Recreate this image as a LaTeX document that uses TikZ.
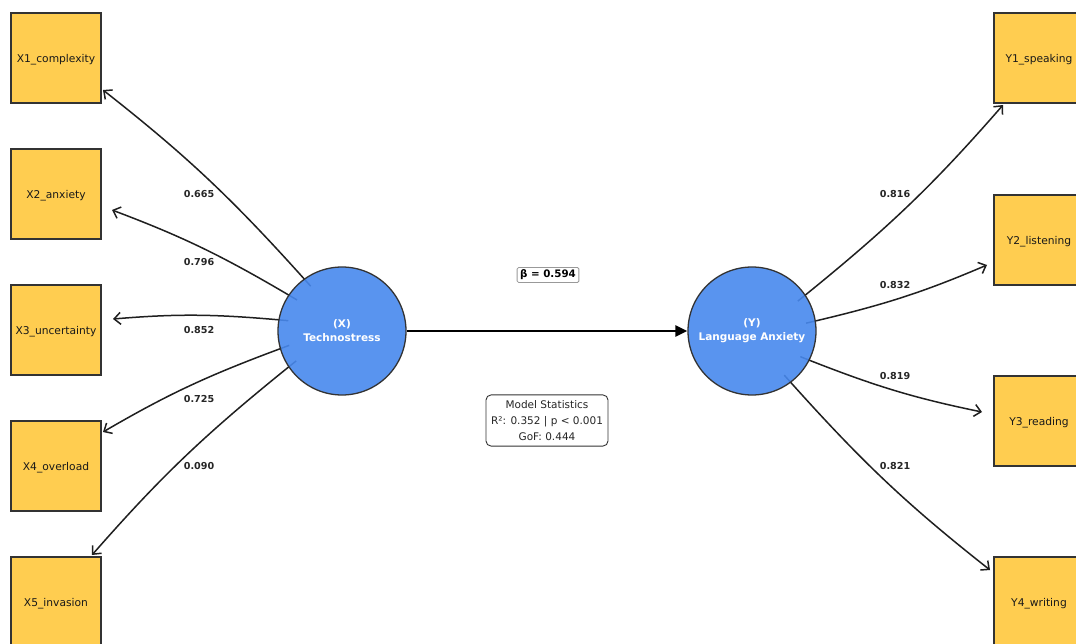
\documentclass[tikz,border=0pt]{standalone}
\usepackage{fontspec}
\setmainfont{DejaVu Sans}
\usetikzlibrary{arrows.meta}
\definecolor{boxfill}{HTML}{FFCD50}
\definecolor{circfill}{HTML}{4889EE}
\definecolor{edgec}{HTML}{333333}
\pgfdeclarelayer{bg}
\pgfsetlayers{bg,main}
\begin{document}
\begin{tikzpicture}[x=1pt,y=-1pt,
  ind/.style={rectangle,draw=edgec,line width=1.4pt,fill=boxfill,minimum width=90pt,minimum height=90pt,inner sep=0pt,text depth=0pt,font=\fontsize{10.7}{12}\selectfont,text=black!90},
  lat/.style={circle,draw=edgec,line width=1.3pt,fill=circfill,fill opacity=0.9,text opacity=1,minimum size=128pt,inner sep=0pt,text=white,font=\bfseries\fontsize{10.5}{14}\selectfont,align=center},
  load/.style={-{Straight Barb[length=6.5pt,width=12pt,line width=1.5pt]},line width=1.5pt,draw=black!88,shorten <=-10pt},
  lbl/.style={font=\bfseries\fontsize{9.6}{11}\selectfont,text=black!85},
  path/.style={line width=2.7pt,draw=black,-{Triangle[length=12pt,width=11pt]}},
]
\useasboundingbox (0,0) rectangle (1076,644);
\clip (0,0) rectangle (1076,644);

% indicator boxes
\node[ind] (x1) at (56,58)  {X1\_complexity};
\node[ind] (x2) at (56,194) {X2\_anxiety};
\node[ind] (x3) at (56,330) {X3\_uncertainty};
\node[ind] (x4) at (56,466) {X4\_overload};
\node[ind] (x5) at (56,602) {X5\_invasion};
\node[ind] (y1) at (1039,58)  {Y1\_speaking};
\node[ind] (y2) at (1039,240) {Y2\_listening};
\node[ind] (y3) at (1039,421) {Y3\_reading};
\node[ind] (y4) at (1039,602) {Y4\_writing};

% latent variables
\node[lat] (tx) at (342,331) {(X)\\Technostress};
\node[lat] (ty) at (752,331) {(Y)\\Language Anxiety};

% connectors
\begin{pgfonlayer}{bg}
\fill[white] (0,0) rectangle (1076,644);
\draw[load] (tx.126) to[bend right=5] ([shift={(47,32)}]x1.center);
\draw[load] (tx.146) to[bend right=5] ([shift={(56,16)}]x2.center);
\draw[load] (tx.170) to[bend right=5] ([shift={(57,-11)}]x3.center);
\draw[load] (tx.196) to[bend right=5] ([shift={(47,-34)}]x4.center);
\draw[load] (tx.214) to[bend right=5] ([shift={(36,-47)}]x5.center);
\draw[load] (ty.34)  to[bend right=5] ([shift={(-36,47)}]y1.center);
\draw[load] (ty.9)   to[bend right=5] ([shift={(-52,25)}]y2.center);
\draw[load] (ty.-27) to[bend right=5] ([shift={(-57,-9)}]y3.center);
\draw[load] (ty.-53) to[bend right=5] ([shift={(-49,-32)}]y4.center);
\draw[path] (tx.east) -- (ty.west);
\end{pgfonlayer}

% loading labels
\node[lbl] (l1) at (199,194) {0.665};
\node[lbl] (l2) at (199,262) {0.796};
\node[lbl] (l3) at (199,330) {0.852};
\node[lbl] (l4) at (199,399) {0.725};
\node[lbl] (l5) at (199,466) {0.090};
\node[lbl] (m1) at (895,194) {0.816};
\node[lbl] (m2) at (895,285) {0.832};
\node[lbl] (m3) at (895,376) {0.819};
\node[lbl] (m4) at (895,466) {0.821};

% path coefficient
\node[font=\bfseries\fontsize{10.3}{12}\selectfont,draw=gray!80,fill=white,rounded corners=1.5pt,line width=0.8pt,inner xsep=3pt,inner ysep=2.5pt] (beta) at (548,275) {β = 0.594};

% model statistics
\node[font=\fontsize{10.5}{16}\selectfont,text=black!85,draw=edgec,line width=0.9pt,fill=white,rounded corners=5pt,align=center,inner xsep=5pt,inner ysep=5.5pt] (stats) at (547,420.5) {Model Statistics\\R²: 0.352 | p < 0.001\\GoF: 0.444};
\end{tikzpicture}
\end{document}
